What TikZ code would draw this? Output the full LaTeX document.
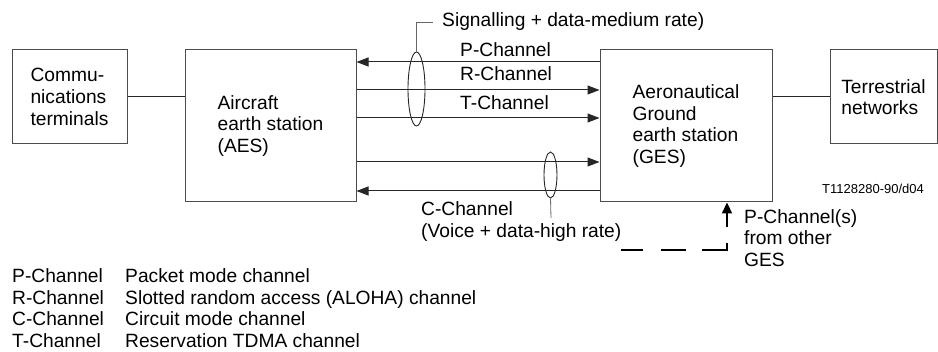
\documentclass[tikz,border=0pt]{standalone}
\usepackage{fontspec}
\setmainfont{Liberation Sans}
\usetikzlibrary{arrows.meta,shapes.geometric}
\newcommand\dfont{\fontsize{19.2pt}{21.7pt}\selectfont}
\newcommand\sfont{\fontsize{13pt}{15pt}\selectfont}
\begin{document}
\begin{tikzpicture}[x=1pt,y=-1pt,
 box/.style={draw=black!70,line width=1pt,inner sep=0pt,align=left,font=\dfont},
 ch/.style={draw=black!85,line width=1pt,-{Triangle[length=12pt,width=9pt]}},
 link/.style={draw=black!85,line width=1pt},
 lab/.style={inner sep=0pt,font=\dfont,align=left},
 ring/.style={ellipse,draw=black!85,line width=0.9pt,inner sep=0pt},
 leader/.style={draw=black!60,line width=0.8pt},
 thickdash/.style={line width=2.2pt,dash pattern=on 22pt off 18pt on 25pt off 16pt on 60pt off 1pt},
 thickarrow/.style={line width=2.2pt,-{Triangle[length=11pt,width=10pt]}}
]
\useasboundingbox (0,0) rectangle (938,352);
% boxes
\node[box,minimum width=115pt,minimum height=94pt] (comm) at (69.5,97) {Commu-\\nications\\terminals};
\node[box,minimum width=171pt,minimum height=152pt] (aes) at (270.5,126) {Aircraft\\earth station\\(AES)};
\node[box,minimum width=172pt,minimum height=152pt] (ges) at (686,126) {Aeronautical\\Ground\\earth station\\(GES)};
\node[box,minimum width=107pt,minimum height=94pt] (terr) at (883.5,97) {Terrestrial\\networks};
% links
\draw[link] (comm.east) -- (comm.east -| aes.west);
\draw[link] (ges.east |- terr.west) -- (terr.west);
% channels
\draw[ch] (ges.west |- 0,62) -- (aes.east |- 0,62);
\draw[ch] (aes.east |- 0,90) -- (ges.west |- 0,90);
\draw[ch] (aes.east |- 0,118) -- (ges.west |- 0,118);
\draw[ch] (aes.east |- 0,162) -- (ges.west |- 0,162);
\draw[ch] (ges.west |- 0,191) -- (aes.east |- 0,191);
% channel labels
\node[lab,anchor=base west] (pch) at (460,57) {P-Channel};
\node[lab,anchor=base west] (rch) at (460,81) {R-Channel};
\node[lab,anchor=base west] (tch) at (460,110) {T-Channel};
% rings and leaders
\node[ring,minimum width=17pt,minimum height=74pt] (r1) at (416.5,89) {};
\node[ring,minimum width=13pt,minimum height=46pt] (r2) at (550.5,175) {};
\node[lab,anchor=base west,inner xsep=9pt] (sig) at (433,27) {Signalling + data-medium rate)};
\draw[leader] (r1.north) |- (sig.west);
\coordinate (r2end) at (551,218);
\draw[leader] (r2.south) -- (r2end);
\node[lab,anchor=north west] (cch) at (421,201.5) {C-Channel\\(Voice + data-high rate)};
% other GES
\coordinate (dstart) at (621,250);
\coordinate (dcorner) at (727,250);
\coordinate (dend) at (727,243);
\draw[thickdash] (dstart) -- (dcorner) -- (dend);
\coordinate (pin) at (727,227);
\draw[thickarrow] (pin) -- (pin |- ges.south);
\node[lab,anchor=north west] (other) at (744,209) {P-Channel(s)\\from other\\GES};
\node[inner sep=0pt,font=\sfont,anchor=base west] (ref) at (822,194) {T1128280-90/d04};
% legend
\node[lab,anchor=north west] (legk) at (12,268.3) {P-Channel\\R-Channel\\C-Channel\\T-Channel};
\node[lab,anchor=north west] (legv) at (125,268.3) {Packet mode channel\\Slotted random access (ALOHA) channel\\Circuit mode channel\\Reservation TDMA channel};
\end{tikzpicture}
\end{document}
